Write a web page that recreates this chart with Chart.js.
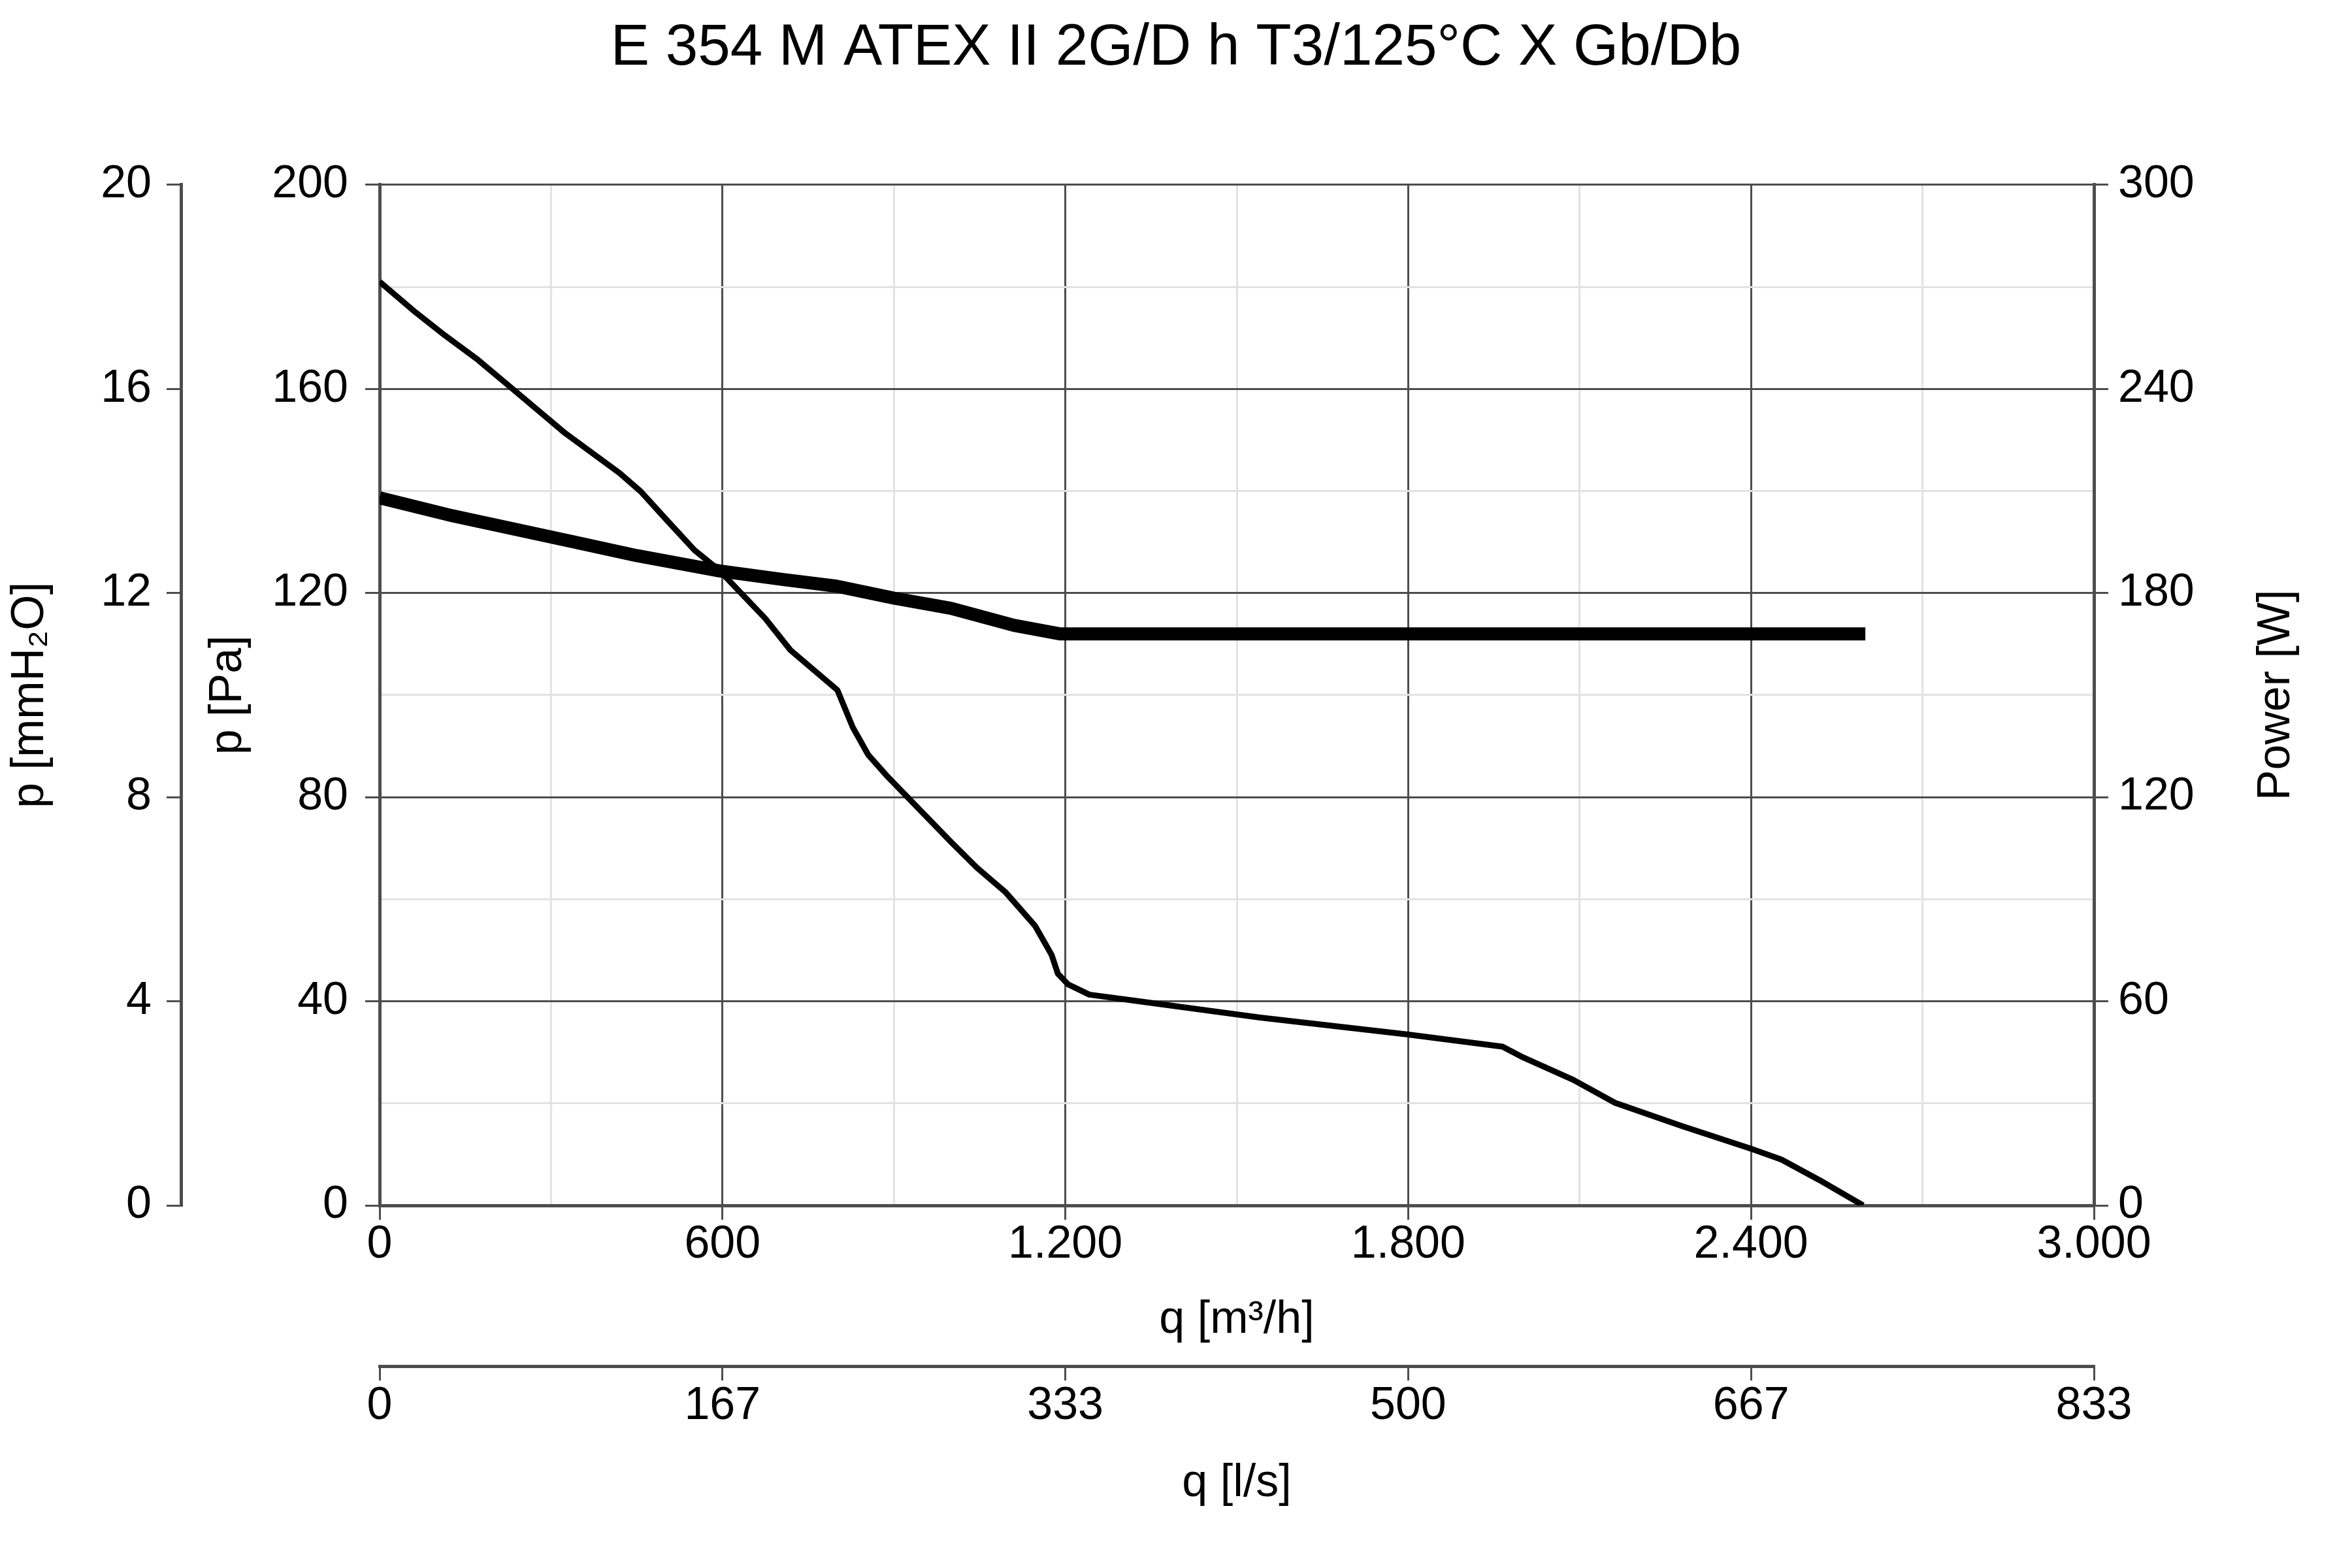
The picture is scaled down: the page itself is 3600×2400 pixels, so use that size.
<!DOCTYPE html>
<html>
<head>
<meta charset="utf-8">
<title>E 354 M ATEX</title>
<script src="https://cdn.jsdelivr.net/npm/chart.js@4.4.1/dist/chart.umd.min.js"></script>
<style>
  html, body { margin: 0; padding: 0; background: #fff; }
  canvas { display: block; }
</style>
</head>
<body>
<canvas id="grafico" width="3600" height="2400"></canvas>
<script>
// curva de pressao (q em m3/h, p em Pa)
var pressaoQ = [0, 63, 114, 172, 238, 325, 420, 457, 500, 551, 595, 675, 719, 801, 828, 855, 890, 1001, 1045, 1096, 1147, 1176, 1187, 1205, 1242, 1322, 1541, 1798, 1965, 2001, 2089, 2162, 2278, 2400, 2453, 2519, 2596];
var pressaoPa = [181, 175, 170.5, 165.7, 159.5, 151.3, 143.5, 139.9, 134.6, 128.4, 124.4, 115, 108.8, 101, 93.7, 88.3, 83.9, 71.1, 66.2, 61.3, 54.8, 49.1, 45.4, 43.3, 41.3, 40.1, 36.8, 33.5, 31.1, 29, 24.6, 20.1, 15.6, 11.1, 9, 5, 0];

// curva de potencia (q em m3/h, W)
var potenciaQ = [0, 120, 230, 340, 450, 595, 705, 800, 900, 1000, 1110, 1190, 2600];
var potenciaW = [208, 203, 199, 195, 191, 186.5, 184, 182, 178.5, 175.5, 170.5, 168, 168];

// eixo q [l/s] (ticks nas mesmas posicoes do eixo m3/h)
var ticksLs = [0, 167, 333, 500, 667, 833];
var ticksLsM3h = [0, 600, 1200, 1800, 2400, 3000];

var titulo = 'E 354 M ATEX II 2G/D h T3/125°C X Gb/Db';

var escuro = '#4d4d4d';
var claro = '#e2e2e2';
var nada = 'rgba(0,0,0,0)';
var fonte = { family: '"Liberation Sans", Arial, sans-serif', size: 70, lineHeight: 1 };
var fonteTitulo = { family: '"Liberation Sans", Arial, sans-serif', size: 70 };

function milhar(v) {
    return String(v).replace(/\B(?=(\d{3})+(?!\d))/g, '.');
}

function pontos(xs, ys) {
    return xs.map(function (x, i) { return { x: x, y: ys[i] }; });
}

// titulo do eixo da direita, lido de baixo para cima
var tituloPotencia = {
    id: 'tituloPotencia',
    afterDraw: function (chart) {
        var s = chart.scales.yW;
        var ctx = chart.ctx;
        ctx.save();
        ctx.translate(s.right - 115, (s.top + s.bottom) / 2);
        ctx.rotate(-Math.PI / 2);
        ctx.font = '70px "Liberation Sans", Arial, sans-serif';
        ctx.fillStyle = '#000';
        ctx.textAlign = 'center';
        ctx.textBaseline = 'middle';
        ctx.fillText('Power [W]', 0, 0);
        ctx.restore();
    }
};

var data = {
    datasets: [{
        label: 'p',
        data: pontos(pressaoQ, pressaoPa),
        xAxisID: 'x',
        yAxisID: 'y',
        borderColor: '#000',
        borderWidth: 9,
        showLine: true,
        pointRadius: 0,
        borderCapStyle: 'butt',
        borderJoinStyle: 'round'
    }, {
        label: 'Power',
        data: pontos(potenciaQ, potenciaW),
        xAxisID: 'x',
        yAxisID: 'yW',
        borderColor: '#000',
        borderWidth: 20,
        showLine: true,
        pointRadius: 0,
        borderCapStyle: 'butt',
        borderJoinStyle: 'round'
    }]
};

var config = {
    type: 'scatter',
    data: data,
    plugins: [tituloPotencia],
    options: {
        responsive: false,
        animation: false,
        devicePixelRatio: 1,
        layout: { padding: 0 },
        plugins: {
            legend: { display: false },
            tooltip: { enabled: false },
            title: {
                display: true,
                text: titulo,
                color: '#000',
                font: { family: '"Liberation Sans", Arial, sans-serif', size: 89, weight: 'normal' },
                padding: { top: 21, bottom: 155 }
            }
        },
        scales: {
            x: {
                type: 'linear', position: 'bottom', weight: 0,
                min: 0, max: 3000,
                ticks: {
                    stepSize: 300, autoSkip: false, maxRotation: 0, padding: 4,
                    color: '#000', font: fonte,
                    callback: function (v) { return v % 600 === 0 ? milhar(v) : ''; }
                },
                grid: {
                    lineWidth: 3, tickLength: 22, tickWidth: 3,
                    color: function (c) { return c.tick && c.tick.value % 600 === 0 ? escuro : claro; },
                    tickColor: function (c) { return c.tick && c.tick.value % 600 === 0 ? escuro : nada; }
                },
                border: { color: escuro, width: 5 },
                title: { display: true, text: 'q [m³/h]', color: '#000', font: fonteTitulo, padding: { top: 0, bottom: 28 } },
                afterFit: function (s) { s.height = 246; }
            },
            xLs: {
                type: 'linear', position: 'bottom', weight: 1,
                min: 0, max: 3000,
                afterBuildTicks: function (s) {
                    s.ticks = ticksLsM3h.map(function (v) { return { value: v }; });
                },
                ticks: {
                    autoSkip: false, maxRotation: 0, padding: 5,
                    color: '#000', font: fonte,
                    callback: function (v, i) { return String(ticksLs[i]); }
                },
                grid: { drawOnChartArea: false, lineWidth: 3, tickLength: 22, color: escuro },
                border: { color: escuro, width: 5 },
                title: { display: true, text: 'q [l/s]', color: '#000', font: fonteTitulo, padding: { top: 0, bottom: 87 } },
                afterFit: function (s) { s.height = 309; }
            },
            y: {
                type: 'linear', position: 'left', weight: 0,
                min: 0, max: 200,
                ticks: {
                    stepSize: 20, padding: 26, color: '#000', font: fonte,
                    callback: function (v) { return v % 40 === 0 ? String(v) : ''; }
                },
                grid: {
                    lineWidth: 3, tickLength: 22, tickWidth: 3,
                    color: function (c) { return c.tick && c.tick.value % 40 === 0 ? escuro : claro; },
                    tickColor: function (c) { return c.tick && c.tick.value % 40 === 0 ? escuro : nada; }
                },
                border: { color: escuro, width: 5 },
                title: { display: true, text: 'p [Pa]', color: '#000', font: fonteTitulo, padding: { top: 31, bottom: 0 } },
                afterFit: function (s) { s.width = 304; }
            },
            ymm: {
                type: 'linear', position: 'left', weight: 1,
                min: 0, max: 20,
                ticks: { stepSize: 4, padding: 23, color: '#000', font: fonte },
                grid: { drawOnChartArea: false, lineWidth: 3, tickLength: 22, color: escuro },
                border: { color: escuro, width: 5 },
                title: { display: true, text: 'p [mmH₂O]', color: '#000', font: fonteTitulo, padding: { top: 5, bottom: 0 } },
                afterFit: function (s) { s.width = 277; }
            },
            yW: {
                type: 'linear', position: 'right',
                min: 0, max: 300,
                ticks: { stepSize: 60, padding: 15, color: '#000', font: fonte },
                grid: { drawOnChartArea: false, lineWidth: 3, tickLength: 22, color: escuro },
                border: { color: escuro, width: 5 },
                title: { display: false },
                afterFit: function (s) { s.width = 395; }
            }
        }
    }
};

var meuGrafico = new Chart(document.getElementById('grafico'), config);
</script>
</body>
</html>
